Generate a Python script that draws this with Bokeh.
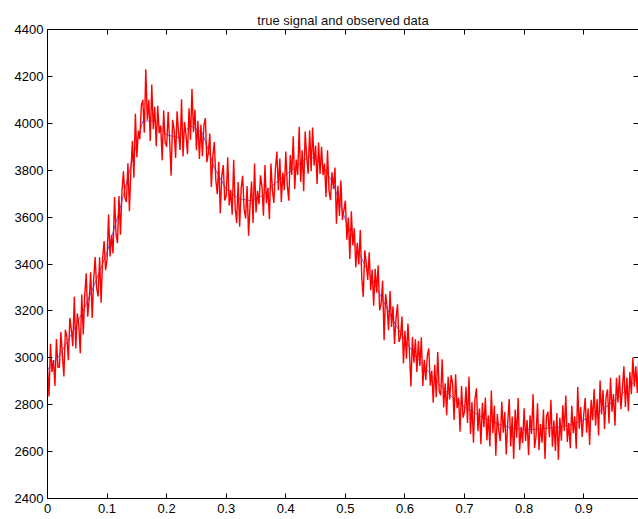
import numpy as np
from bokeh.plotting import figure
from bokeh.models import Range1d, FixedTicker, LinearAxis
from bokeh.embed import file_html
from bokeh.resources import INLINE

title_text = "true signal and observed data"

# observed (noisy) data, sampled on a regular grid from 0 to 1
observed = [
    2960, 2835, 3060, 2940, 2990, 2880, 3080, 2960,
    2960, 3110, 3010, 2920, 3120, 3090, 2990, 3170,
    3120, 3050, 3260, 3040, 3190, 3140, 3020, 3270,
    3100, 3265, 3360, 3175, 3250, 3365, 3170, 3335,
    3430, 3296, 3262, 3429, 3235, 3421, 3498, 3374,
    3420, 3611, 3432, 3524, 3445, 3686, 3528, 3489,
    3690, 3525, 3710, 3795, 3680, 3665, 3830, 3625,
    3800, 3924, 3768, 4041, 3855, 3969, 3932, 4076,
    4100, 3960, 4230, 4015, 4100, 3925, 4165, 3975,
    4070, 3902, 4075, 3958, 3990, 3842, 4055, 3918,
    3900, 4049, 3928, 3776, 4015, 3974, 3852, 4051,
    3960, 3886, 4102, 3859, 4005, 3951, 3868, 4064,
    3930, 4146, 3962, 4059, 3885, 4011, 3848, 3994,
    3860, 3991, 4022, 3834, 3875, 3956, 3728, 3859,
    3920, 3759, 3698, 3836, 3615, 3774, 3822, 3671,
    3690, 3855, 3650, 3715, 3610, 3845, 3640, 3575,
    3750, 3559, 3718, 3776, 3635, 3594, 3732, 3521,
    3650, 3752, 3575, 3828, 3620, 3712, 3655, 3778,
    3730, 3606, 3822, 3659, 3725, 3591, 3828, 3714,
    3660, 3805, 3880, 3715, 3850, 3665, 3790, 3715,
    3880, 3735, 3670, 3865, 3780, 3945, 3720, 3845,
    3780, 3985, 3750, 3885, 3710, 3965, 3860, 3785,
    3970, 3796, 3982, 3819, 3905, 3741, 3918, 3784,
    3900, 3779, 3828, 3686, 3885, 3714, 3672, 3791,
    3720, 3811, 3572, 3734, 3605, 3756, 3588, 3629,
    3670, 3504, 3598, 3421, 3625, 3479, 3552, 3386,
    3490, 3398, 3545, 3342, 3260, 3458, 3405, 3332,
    3450, 3288, 3375, 3222, 3380, 3278, 3395, 3202,
    3230, 3328, 3075, 3272, 3220, 3118, 3285, 3132,
    3220, 3059, 3169, 3228, 3068, 3087, 3176, 2976,
    3115, 2996, 3146, 3027, 2878, 3088, 2979, 3079,
    2940, 3072, 2965, 3088, 2880, 2992, 2905, 3008,
    3040, 2882, 2945, 2808, 2970, 2832, 3025, 2858,
    2840, 2994, 2788, 2891, 2755, 2919, 2822, 2926,
    2890, 2735, 2930, 2785, 2830, 2685, 2880, 2745,
    2770, 2876, 2722, 2919, 2675, 2811, 2638, 2824,
    2870, 2687, 2784, 2631, 2808, 2704, 2831, 2648,
    2755, 2622, 2860, 2678, 2795, 2582, 2760, 2688,
    2645, 2813, 2681, 2769, 2588, 2726, 2824, 2622,
    2750, 2569, 2779, 2659, 2828, 2607, 2706, 2636,
    2785, 2645, 2735, 2585, 2755, 2675, 2845, 2615,
    2665, 2806, 2606, 2717, 2638, 2779, 2569, 2749,
    2770, 2661, 2821, 2621, 2732, 2603, 2764, 2565,
    2745, 2646, 2797, 2688, 2839, 2641, 2722, 2614,
    2795, 2678, 2750, 2612, 2875, 2698, 2790, 2662,
    2755, 2828, 2681, 2784, 2628, 2821, 2734, 2867,
    2710, 2824, 2669, 2903, 2758, 2862, 2696, 2831,
    2865, 2720, 2915, 2770, 2845, 2710, 2915, 2810,
    2925, 2781, 2868, 2964, 2790, 2916, 2772, 2939,
    2845, 3001, 2878, 2964, 2850, 3006, 2892, 2979,
    2960,
]

# true (smooth) signal, on a coarser regular grid from 0 to 1
true_signal = [
    2950, 3010, 3100, 3200, 3320, 3450, 3620, 3820, 4010, 4010,
    3950, 3940, 3990, 3960, 3810, 3720, 3680, 3670, 3690, 3740,
    3780, 3820, 3860, 3830, 3740, 3590, 3460, 3360, 3260, 3160,
    3075, 3000, 2940, 2880, 2830, 2790, 2760, 2735, 2715, 2700,
    2695, 2695, 2700, 2705, 2715, 2735, 2760, 2795, 2835, 2885,
    2935,
]

x_ticks = [0, 0.1, 0.2, 0.3, 0.4, 0.5, 0.6, 0.7, 0.8, 0.9]
x_tick_labels = ["0", "0.1", "0.2", "0.3", "0.4", "0.5", "0.6", "0.7", "0.8", "0.9"]
y_ticks = [2400, 2600, 2800, 3000, 3200, 3400, 3600, 3800, 4000, 4200, 4400]

x_obs = np.linspace(0.0, 1.0, len(observed))
x_sig = np.linspace(0.0, 1.0, len(true_signal))

FONT = "Liberation Sans"

p = figure(width=638, height=519, output_backend="svg", toolbar_location=None,
           x_range=Range1d(0, 0.992), y_range=Range1d(2400, 4400),
           title=title_text, min_border_left=47, min_border_right=0,
           min_border_top=29, min_border_bottom=21)
p.outline_line_color = None
p.xgrid.visible = False
p.ygrid.visible = False
p.background_fill_color = "white"
p.border_fill_color = "white"

p.title.text_font = FONT
p.title.text_font_size = "13px"
p.title.text_font_style = "normal"
p.title.text_color = "#111111"
p.title.align = "center"
p.title.vertical_align = "top"
p.title.standoff = 0

p.line(x_sig, true_signal, line_color="#0000ff", line_width=0.6)
p.line(x_obs, observed, line_color="#ff0000", line_width=1.4)

def style(ax, labels=True):
    ax.axis_line_color = "black"
    ax.axis_line_width = 1
    ax.major_tick_line_color = "black"
    ax.major_tick_in = 5
    ax.major_tick_out = 0
    ax.minor_tick_line_color = None
    ax.major_label_text_font = FONT
    ax.major_label_text_color = "black"
    if labels:
        ax.major_label_text_font_size = "13px"
    else:
        ax.major_label_text_font_size = "1px"
        ax.major_label_text_color = None
        ax.major_label_standoff = 0

xax = p.xaxis[0]
xax.ticker = FixedTicker(ticks=x_ticks)
xax.major_label_overrides = {t: s for t, s in zip(x_ticks, x_tick_labels)}
style(xax)
xax.major_label_standoff = 5

yax = p.yaxis[0]
yax.ticker = FixedTicker(ticks=y_ticks)
style(yax)
yax.major_label_standoff = 4

top = LinearAxis(ticker=FixedTicker(ticks=x_ticks))
style(top, labels=False)
p.add_layout(top, "above")

right = LinearAxis(ticker=FixedTicker(ticks=y_ticks))
style(right, labels=False)
right.axis_line_color = None
p.add_layout(right, "right")

open("out.html", "w").write(file_html(p, INLINE))
